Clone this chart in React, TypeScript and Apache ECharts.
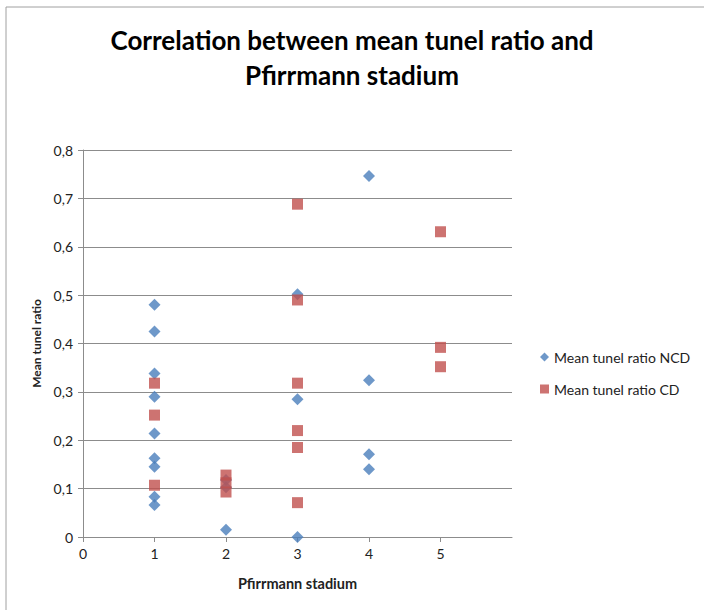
import React, { useEffect, useRef } from "react";
import * as echarts from "echarts";

const titleText = "Correlation between mean tunel ratio and\nPfirrmann stadium";
const xAxisName = "Pfirrmann stadium";
const yAxisName = "Mean tunel ratio";
const seriesNames = ["Mean tunel ratio NCD", "Mean tunel ratio CD"];

const ncdX = [1, 1, 1, 1, 1, 1, 1, 1, 1, 2, 2, 2, 3, 3, 3, 4, 4, 4, 4];
const ncdY = [0.48, 0.425, 0.338, 0.29, 0.214, 0.163, 0.145, 0.083, 0.066, 0.118, 0.103, 0.015, 0.502, 0.285, 0.0, 0.746, 0.324, 0.171, 0.14];

const cdX = [1, 1, 1, 2, 2, 2, 3, 3, 3, 3, 3, 3, 5, 5, 5];
const cdY = [0.318, 0.252, 0.107, 0.128, 0.112, 0.093, 0.688, 0.49, 0.318, 0.22, 0.185, 0.071, 0.631, 0.392, 0.352];

const xTicks = [0, 1, 2, 3, 4, 5];

const FONT = "Lato";

export default function App() {
  const ref = useRef<HTMLDivElement>(null);
  useEffect(() => {
    if (!ref.current) return;
    const chart = echarts.init(ref.current, undefined, { renderer: "svg" });
    const ncd = ncdX.map((x, i) => [x, ncdY[i]]);
    const cd = cdX.map((x, i) => [x, cdY[i]]);
    chart.setOption({
      animation: false,
      backgroundColor: "#ffffff",
      textStyle: { fontFamily: FONT },
      title: {
        text: titleText,
        left: "center",
        top: 17,
        textStyle: {
          fontFamily: FONT,
          fontSize: 26,
          fontWeight: "bold",
          color: "#000",
          lineHeight: 35,
        },
      },
      legend: {
        orient: "vertical",
        left: 535,
        top: 345,
        itemWidth: 9,
        itemHeight: 9,
        itemGap: 18,
        textStyle: { fontFamily: FONT, fontSize: 14, color: "#222", lineHeight: 14 },
        data: [
          { name: seriesNames[0], icon: "diamond" },
          { name: seriesNames[1], icon: "rect" },
        ],
      },
      grid: { left: 83, right: 192, top: 150, bottom: 73, containLabel: false },
      xAxis: {
        type: "value",
        min: 0,
        max: 6,
        interval: 1,
        name: xAxisName,
        nameLocation: "middle",
        nameGap: 39,
        nameTextStyle: { fontFamily: FONT, fontSize: 14.5, fontWeight: "bold", color: "#222" },
        axisLine: { show: true, lineStyle: { color: "#8c8c8c", width: 1 } },
        axisTick: { show: true, length: 5, lineStyle: { color: "#8c8c8c" }, customValues: xTicks },
        axisLabel: { fontFamily: FONT, fontSize: 14, color: "#222", margin: 9, customValues: xTicks },
        splitLine: { show: false },
      },
      yAxis: {
        type: "value",
        min: 0,
        max: 0.8,
        interval: 0.1,
        name: yAxisName,
        nameLocation: "middle",
        nameGap: 40,
        nameRotate: 90,
        nameTextStyle: { fontFamily: FONT, fontSize: 12, fontWeight: "bold", color: "#222" },
        axisLine: { show: true, lineStyle: { color: "#8c8c8c", width: 1 } },
        axisTick: { show: true, length: 5, lineStyle: { color: "#8c8c8c" } },
        axisLabel: {
          fontFamily: FONT,
          fontSize: 14,
          color: "#222",
          margin: 10,
          formatter: (v: number) => (v === 0 ? "0" : v.toFixed(1).replace(".", ",")),
        },
        splitLine: { show: true, lineStyle: { color: "#8c8c8c", width: 1 } },
      },
      graphic: [
        {
          type: "rect",
          shape: { x: 6, y: 7, width: 720, height: 620 },
          style: { fill: "none", stroke: "#a0a0a0", lineWidth: 1 },
          silent: true,
        },
      ],
      series: [
        {
          name: seriesNames[0],
          type: "scatter",
          symbol: "diamond",
          symbolSize: 12,
          itemStyle: { color: "#4a7ebb" },
          data: ncd,
          z: 2,
        },
        {
          name: seriesNames[1],
          type: "scatter",
          symbol: "rect",
          symbolSize: 11,
          itemStyle: { color: "#c0504d" },
          data: cd,
          z: 3,
        },
      ],
    });
    return () => chart.dispose();
  }, []);
  return (
    <div
      ref={ref}
      style={{ position: "absolute", left: 0, top: 0, width: 704, height: 610 }}
    />
  );
}
